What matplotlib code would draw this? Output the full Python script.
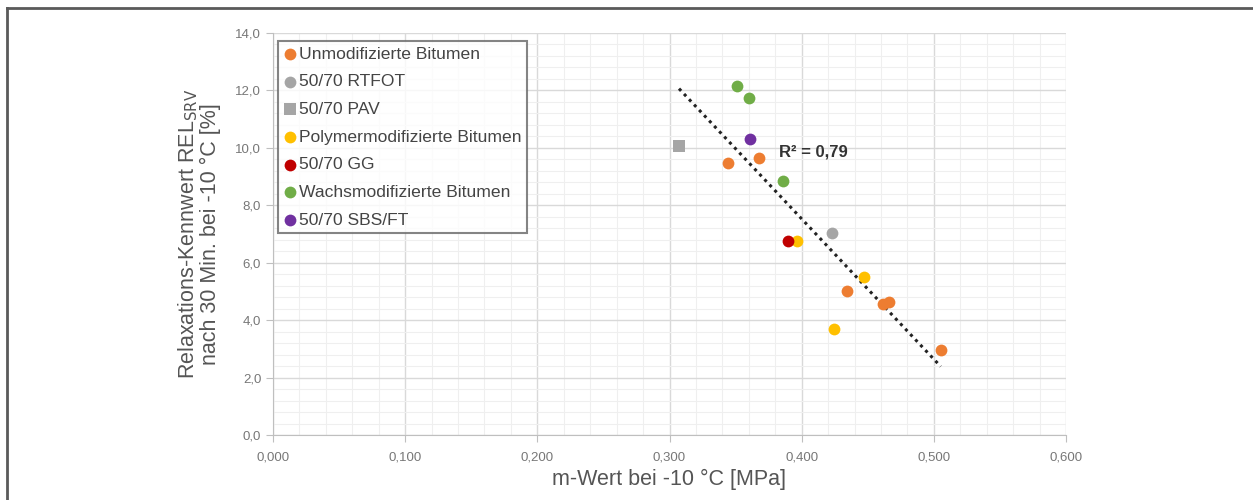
import numpy as np
import matplotlib
matplotlib.use('Agg')
from matplotlib import pyplot as plt
from matplotlib.ticker import MultipleLocator, FuncFormatter
from matplotlib.lines import Line2D

plt.rcParams['font.family'] = ['Liberation Sans', 'DejaVu Sans']

# groups: name, marker, colour, x (m-Wert), y (REL_SRV)
unmod_x = [0.3445, 0.368, 0.434, 0.4618, 0.4663, 0.5052]
unmod_y = [9.48, 9.66, 5.01, 4.55, 4.63, 2.96]
rtfot_x = [0.423]
rtfot_y = [7.03]
pav_x = [0.3072]
pav_y = [10.08]
pmb_x = [0.3962, 0.447, 0.4247]
pmb_y = [6.77, 5.51, 3.68]
gg_x = [0.3897]
gg_y = [6.77]
wax_x = [0.3508, 0.360, 0.386]
wax_y = [12.17, 11.73, 8.86]
sbs_x = [0.361]
sbs_y = [10.31]

series = [
    ('Unmodifizierte Bitumen', 'o', '#ED7D31', unmod_x, unmod_y),
    ('50/70 RTFOT', 'o', '#A5A5A5', rtfot_x, rtfot_y),
    ('50/70 PAV', 's', '#A5A5A5', pav_x, pav_y),
    ('Polymermodifizierte Bitumen', 'o', '#FFC000', pmb_x, pmb_y),
    ('50/70 GG', 'o', '#C00000', gg_x, gg_y),
    ('Wachsmodifizierte Bitumen', 'o', '#70AD47', wax_x, wax_y),
    ('50/70 SBS/FT', 'o', '#7030A0', sbs_x, sbs_y),
]

fig = plt.figure(figsize=(12.53, 5.0), dpi=100)
ax = fig.add_axes([273 / 1253, 1 - 435 / 500, (1066 - 273) / 1253, (435 - 33) / 500])

for name, mk, col, xs, ys in series:
    ax.scatter(xs, ys, s=72, marker=mk, color=col, label=name, zorder=3, linewidths=0)

# linear trend over all points
all_x = np.concatenate([np.array(s[3]) for s in series])
all_y = np.concatenate([np.array(s[4]) for s in series])
k, d = np.polyfit(all_x, all_y, 1)
tx = np.array([all_x.min(), all_x.max()])
ax.plot(tx, k * tx + d, color='#222222', linestyle=(0, (1, 1.4)), linewidth=2.2, zorder=2)
ax.text(0.383, 9.84, 'R² = 0,79', fontsize=12, fontweight='bold', color='#333333', va='center')

ax.set_xlim(0, 0.6)
ax.set_ylim(0, 14)
ax.xaxis.set_major_locator(MultipleLocator(0.1))
ax.xaxis.set_minor_locator(MultipleLocator(0.02))
ax.yaxis.set_major_locator(MultipleLocator(2))
ax.yaxis.set_minor_locator(MultipleLocator(0.4))
ax.xaxis.set_major_formatter(FuncFormatter(lambda v, p: f'{v:.3f}'.replace('.', ',')))
ax.yaxis.set_major_formatter(FuncFormatter(lambda v, p: f'{v:.1f}'.replace('.', ',')))
ax.grid(which='major', color='#d9d9d9', linewidth=1.0)
ax.grid(which='minor', color='#efefef', linewidth=0.8)
ax.set_axisbelow(True)
for side in ['top', 'right']:
    ax.spines[side].set_visible(False)
for side in ['left', 'bottom']:
    ax.spines[side].set_color('#bfbfbf')
ax.tick_params(which='major', length=5, color='#bfbfbf', labelsize=9.5, labelcolor='#777777')
ax.tick_params(which='minor', length=0)
ax.tick_params(axis='x', pad=7)

ax.set_xlabel('m-Wert bei -10 °C [MPa]', fontsize=15.5, color='#555555', labelpad=4)
ax.set_ylabel('Relaxations-Kennwert REL$_{\\mathrm{SRV}}$\nnach 30 Min. bei -10 °C [%]',
              fontsize=15.5, color='#555555', labelpad=10, linespacing=1.0)

leg = ax.legend(loc='upper left', bbox_to_anchor=(0.006, 0.98), fontsize=12.6,
                frameon=True, fancybox=False, handletextpad=0.1, handlelength=0.8,
                borderpad=0.3, labelspacing=0.71, borderaxespad=0, markerscale=1.0)
leg.get_frame().set_edgecolor('#666666')
leg.get_frame().set_linewidth(1.5)
for t in leg.get_texts():
    t.set_color('#444444')

# outer frame (left and top edge)
fig.add_artist(Line2D([7 / 1253, 7 / 1253], [0, 1 - 8 / 500], transform=fig.transFigure,
                      color='#5a5a5a', linewidth=2))
fig.add_artist(Line2D([7 / 1253, 1], [1 - 8 / 500, 1 - 8 / 500], transform=fig.transFigure,
                      color='#5a5a5a', linewidth=2))

fig.savefig('out.png', dpi=100)
